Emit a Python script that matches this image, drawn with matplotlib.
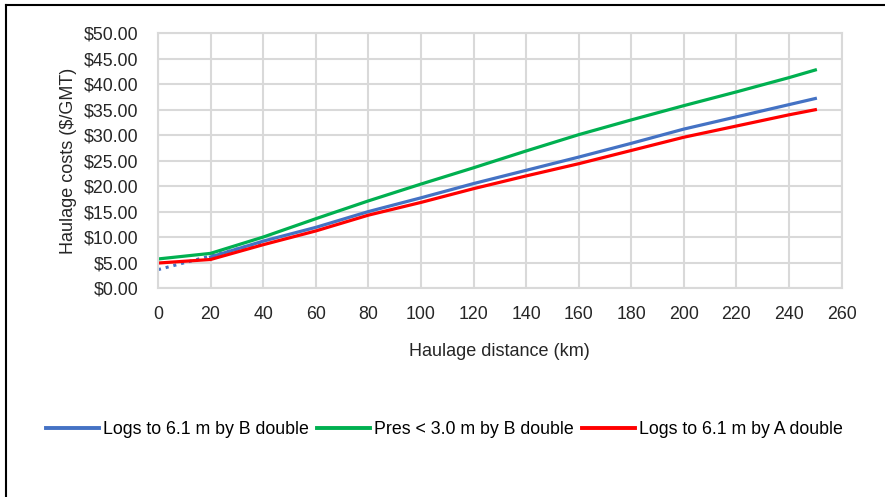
import matplotlib.pyplot as plt
from matplotlib.lines import Line2D
from matplotlib.ticker import FuncFormatter

plt.rcParams['font.family'] = ['Liberation Sans', 'DejaVu Sans']

# values
dist = [0, 20, 40, 60, 80, 100, 120, 140, 160, 180, 200, 220, 240, 250]
green = [5.7, 6.8, 10.0, 13.6, 17.1, 20.4, 23.6, 26.9, 30.1, 33.0, 35.8, 38.5, 41.3, 42.8]
red = [4.9, 5.6, 8.5, 11.2, 14.3, 16.8, 19.5, 22.0, 24.4, 27.0, 29.6, 31.8, 34.0, 35.0]
blue_dist = [20, 40, 60, 80, 100, 120, 140, 160, 180, 200, 220, 240, 250]
blue = [6.1, 9.2, 11.9, 15.0, 17.7, 20.5, 23.1, 25.7, 28.4, 31.2, 33.6, 36.0, 37.2]
trend_dist = [0, 20, 40]
blue_trend = [3.6, 6.3, 9.0]

labels = ["Logs to 6.1 m by B double", "Pres < 3.0 m by B double", "Logs to 6.1 m by A double"]
c_blue, c_green, c_red = "#4472C4", "#00B050", "#FF0000"

fig = plt.figure(figsize=(8.85, 4.97), dpi=100)
ax = fig.add_axes([0.1785, 0.4205, 0.7725, 0.5125])

ax.plot(trend_dist, blue_trend, color=c_blue, lw=2.2, ls=(0, (1, 1.6)))
ax.plot(blue_dist, blue, color=c_blue, lw=2.3)
ax.plot(dist, green, color=c_green, lw=2.3)
ax.plot(dist, red, color=c_red, lw=2.3)

ax.set_xlim(0, 260)
ax.set_ylim(0, 50)
ax.set_xticks(range(0, 261, 20))
ax.set_yticks(range(0, 51, 5))
ax.yaxis.set_major_formatter(FuncFormatter(lambda v, p: "${:.2f}".format(v)))
ax.grid(True, color="#d9d9d9", lw=1.5)
ax.set_axisbelow(True)
for s in ax.spines.values():
    s.set_color("#d9d9d9")
    s.set_linewidth(1.5)
ax.tick_params(length=0, labelsize=12.8, colors="#262626")
ax.tick_params(axis="y", pad=14)
ax.tick_params(axis="x", pad=13)
ax.set_xlabel("Haulage distance (km)", fontsize=13, color="#262626", labelpad=14)
ax.set_ylabel("Haulage costs ($/GMT)", fontsize=13, color="#262626", labelpad=5)

handles = [Line2D([], [], color=c, lw=2.8) for c in (c_blue, c_green, c_red)]
fig.legend(handles, labels, loc="center", bbox_to_anchor=(0.502, 0.135), ncol=3,
           frameon=False, fontsize=12.8, handlelength=3.0, columnspacing=0.45,
           handletextpad=0.22)

# partial frame around the figure (top and left)
fig.add_artist(Line2D([0.007, 1.0], [0.99, 0.99], color="black", lw=1.5))
fig.add_artist(Line2D([0.007, 0.007], [0.0, 0.99], color="black", lw=1.5))

fig.savefig("out.png", dpi=100)
